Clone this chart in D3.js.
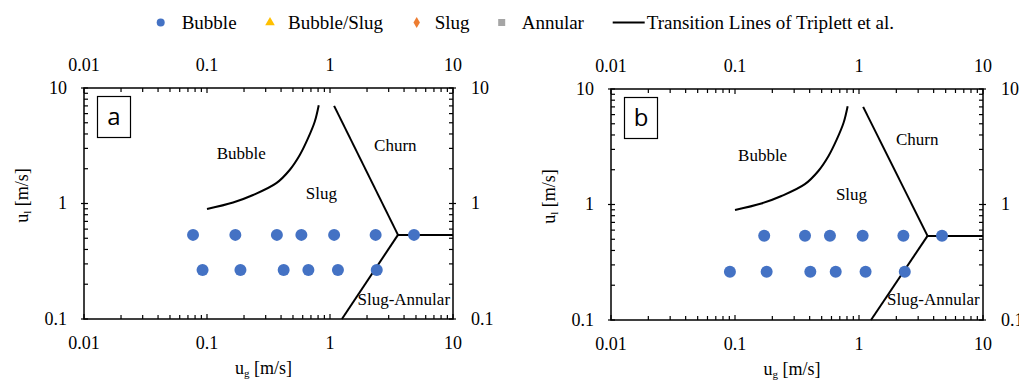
<!DOCTYPE html>
<html>
<head>
<meta charset="utf-8">
<script src="https://cdn.jsdelivr.net/npm/d3@7"></script>
<style>
  html, body { margin: 0; padding: 0; background: #fff; }
  svg { display: block; }
</style>
</head>
<body>
<svg id="chart" width="1019" height="383" font-family="'Liberation Serif', 'DejaVu Serif', serif"></svg>
<script>
// Flow-regime measurements: superficial gas / liquid velocities (m/s)
const ugA1 = [0.077, 0.17, 0.37, 0.585, 1.08, 2.35, 4.82];
const ulA1 = 0.535;
const ugA2 = [0.092, 0.187, 0.42, 0.667, 1.16, 2.40];
const ulA2 = 0.265;

const ugB1 = [0.172, 0.367, 0.583, 1.07, 2.28, 4.67];
const ulB1 = 0.537;
const ugB2 = [0.091, 0.180, 0.405, 0.649, 1.13, 2.34];
const ulB2 = 0.262;

// Transition lines of Triplett et al. [ug, ul]
const bubbleSlugLine = [[0.1, 0.896], [0.163, 1.02], [0.237, 1.185], [0.366, 1.50], [0.47, 1.95],
                        [0.568, 2.63], [0.662, 3.66], [0.751, 5.1], [0.81, 7.1]];
const slugChurnLine = [[1.08, 7.0], [3.57, 0.535]];
const churnAnnularLine = [[3.57, 0.535], [10, 0.535]];
const slugAnnularLine = [[3.57, 0.535], [1.25, 0.1]];

// Tick labels
const xTickLabels = [0.01, 0.1, 1, 10];
const yTickLabels = [0.1, 1, 10];

// Legend entries
const legendItems = [
  { name: "Bubble", shape: "circle", color: "#4472C4" },
  { name: "Bubble/Slug", shape: "triangle", color: "#FFC000" },
  { name: "Slug", shape: "diamond", color: "#ED7D31" },
  { name: "Annular", shape: "square", color: "#A5A5A5" },
  { name: "Transition Lines of Triplett et al.", shape: "line", color: "#000" }
];

// Region names, placed in data coordinates
const regionsA = [
  { t: "Bubble", x: 0.19, y: 2.72 }, { t: "Churn", x: 3.40, y: 3.2 },
  { t: "Slug", x: 0.85, y: 1.22 }, { t: "Slug-Annular", x: 3.98, y: 0.148 }
];
const regionsB = [
  { t: "Bubble", x: 0.167, y: 2.66 }, { t: "Churn", x: 2.95, y: 3.64 },
  { t: "Slug", x: 0.87, y: 1.22 }, { t: "Slug-Annular", x: 3.98, y: 0.15 }
];

const SERIF = "'Liberation Serif', 'DejaVu Serif', serif";
const svg = d3.select("#chart");

function txt(sel) {
  return sel.append("text").attr("font-family", SERIF).attr("fill", "#000");
}

function drawPanel(opts) {
  const { left, right, top, bottom, letter, rows, regions } = opts;
  const g = svg.append("g");
  const x = d3.scaleLog().domain([0.01, 10]).range([left, right]);
  const y = d3.scaleLog().domain([0.1, 10]).range([bottom, top]);

  const isMajor = v => Math.abs(Math.log10(v) - Math.round(Math.log10(v))) < 1e-6;

  // Frame
  g.append("rect")
    .attr("x", left).attr("y", top)
    .attr("width", right - left).attr("height", bottom - top)
    .attr("fill", "none").attr("stroke", "#000").attr("stroke-width", 1.5);

  // X ticks (bottom and top)
  x.ticks().forEach(v => {
    const px = x(v);
    const inLen = isMajor(v) ? 5 : 4;
    g.append("line").attr("x1", px).attr("x2", px)
      .attr("y1", bottom).attr("y2", bottom - inLen)
      .attr("stroke", "#000").attr("stroke-width", 1.2);
    g.append("line").attr("x1", px).attr("x2", px)
      .attr("y1", top).attr("y2", top + inLen)
      .attr("stroke", "#000").attr("stroke-width", 1.2);
  });
  // Y ticks (left and right)
  y.ticks().forEach(v => {
    const py = y(v);
    const outLen = isMajor(v) ? 3 : 0;
    g.append("line").attr("x1", left - outLen).attr("x2", left + 4)
      .attr("y1", py).attr("y2", py)
      .attr("stroke", "#000").attr("stroke-width", 1.2);
    g.append("line").attr("x1", right - 4).attr("x2", right + outLen)
      .attr("y1", py).attr("y2", py)
      .attr("stroke", "#000").attr("stroke-width", 1.2);
  });

  const fmt = v => String(v);
  // X tick labels
  xTickLabels.forEach(v => {
    txt(g).attr("x", x(v)).attr("y", bottom + 30)
      .attr("text-anchor", "middle").attr("font-size", 18).text(fmt(v));
    txt(g).attr("x", x(v)).attr("y", top - 17)
      .attr("text-anchor", "middle").attr("font-size", 18).text(fmt(v));
  });
  // Y tick labels
  yTickLabels.forEach(v => {
    txt(g).attr("x", left - 17).attr("y", y(v))
      .attr("dy", "0.33em")
      .attr("text-anchor", "end").attr("font-size", 18).text(fmt(v));
    txt(g).attr("x", right + 18).attr("y", y(v))
      .attr("dy", "0.33em")
      .attr("text-anchor", "start").attr("font-size", 18).text(fmt(v));
  });

  // Axis titles
  const xt = txt(g).attr("x", (left + right) / 2 - 5).attr("y", bottom + 55)
    .attr("text-anchor", "middle").attr("font-size", 18);
  xt.append("tspan").text("u");
  xt.append("tspan").attr("font-size", 11).attr("dy", 3).text("g");
  xt.append("tspan").attr("dy", -3).text(" [m/s]");

  const yt = txt(g)
    .attr("transform", `translate(${left - 56},${(top + bottom) / 2 - 8}) rotate(-90)`)
    .attr("text-anchor", "middle").attr("font-size", 18);
  yt.append("tspan").text("u");
  yt.append("tspan").attr("font-size", 11).attr("dy", 3).text("l");
  yt.append("tspan").attr("dy", -3).text(" [m/s]");

  // Transition lines
  const line = d3.line().x(d => x(d[0])).y(d => y(d[1]));
  g.append("path").datum(bubbleSlugLine)
    .attr("d", line.curve(d3.curveCatmullRom.alpha(0.5)))
    .attr("fill", "none").attr("stroke", "#000").attr("stroke-width", 2);
  const straight = d3.line().x(d => x(d[0])).y(d => y(d[1]));
  [slugChurnLine, churnAnnularLine, slugAnnularLine].forEach(seg => {
    g.append("path").datum(seg).attr("d", straight)
      .attr("fill", "none").attr("stroke", "#000").attr("stroke-width", 2);
  });

  // Region names
  regions.forEach(r => {
    txt(g).attr("x", x(r.x)).attr("y", y(r.y))
      .attr("dy", "0.33em").attr("text-anchor", "middle")
      .attr("font-size", 17).text(r.t);
  });

  // Measured points (bubble regime)
  rows.forEach(row => {
    g.selectAll(null).data(row.ug).enter().append("circle")
      .attr("cx", d => x(d)).attr("cy", y(row.ul)).attr("r", 6)
      .attr("fill", "#4472C4");
  });

  // Panel letter
  g.append("rect").attr("x", left + 13.5).attr("y", top + 8.5)
    .attr("width", 33).attr("height", 41)
    .attr("fill", "#fff").attr("stroke", "#000").attr("stroke-width", 1.2);
  g.append("text").attr("x", left + 30).attr("y", top + 29).attr("dy", "0.35em")
    .attr("text-anchor", "middle").attr("font-size", 24)
    .attr("font-family", "'Open Sans', 'Liberation Sans', sans-serif")
    .attr("fill", "#000")
    .text(letter);
}

drawPanel({ left: 84, right: 453, top: 88, bottom: 319, letter: "a",
  rows: [{ ug: ugA1, ul: ulA1 }, { ug: ugA2, ul: ulA2 }], regions: regionsA });
drawPanel({ left: 611, right: 983, top: 89, bottom: 320, letter: "b",
  rows: [{ ug: ugB1, ul: ulB1 }, { ug: ugB2, ul: ulB2 }], regions: regionsB });

// Legend
const legendX = [160.7, 270, 416.7, 501.7, 612.7];
const legendY = 22.5;
const lg = svg.append("g");
legendItems.forEach((it, i) => {
  const cx = legendX[i];
  let textX = cx + 21;
  if (it.shape === "circle") {
    lg.append("circle").attr("cx", cx).attr("cy", legendY).attr("r", 4).attr("fill", it.color);
  } else if (it.shape === "triangle") {
    lg.append("path").attr("d", d3.symbol(d3.symbolTriangle, 40)())
      .attr("transform", `translate(${cx},${legendY})`).attr("fill", it.color);
    textX = cx + 18;
  } else if (it.shape === "diamond") {
    lg.append("path").attr("d", d3.symbol(d3.symbolDiamond, 36)())
      .attr("transform", `translate(${cx},${legendY})`).attr("fill", it.color);
    textX = cx + 18;
  } else if (it.shape === "square") {
    lg.append("rect").attr("x", cx - 3.5).attr("y", legendY - 3.5)
      .attr("width", 7).attr("height", 7).attr("fill", it.color);
    textX = cx + 20;
  } else {
    lg.append("line").attr("x1", cx).attr("x2", cx + 32)
      .attr("y1", legendY).attr("y2", legendY)
      .attr("stroke", it.color).attr("stroke-width", 2);
    textX = cx + 34;
  }
  txt(lg).attr("x", textX).attr("y", 28.5)
    .attr("font-size", 19).text(it.name);
});
</script>
</body>
</html>
